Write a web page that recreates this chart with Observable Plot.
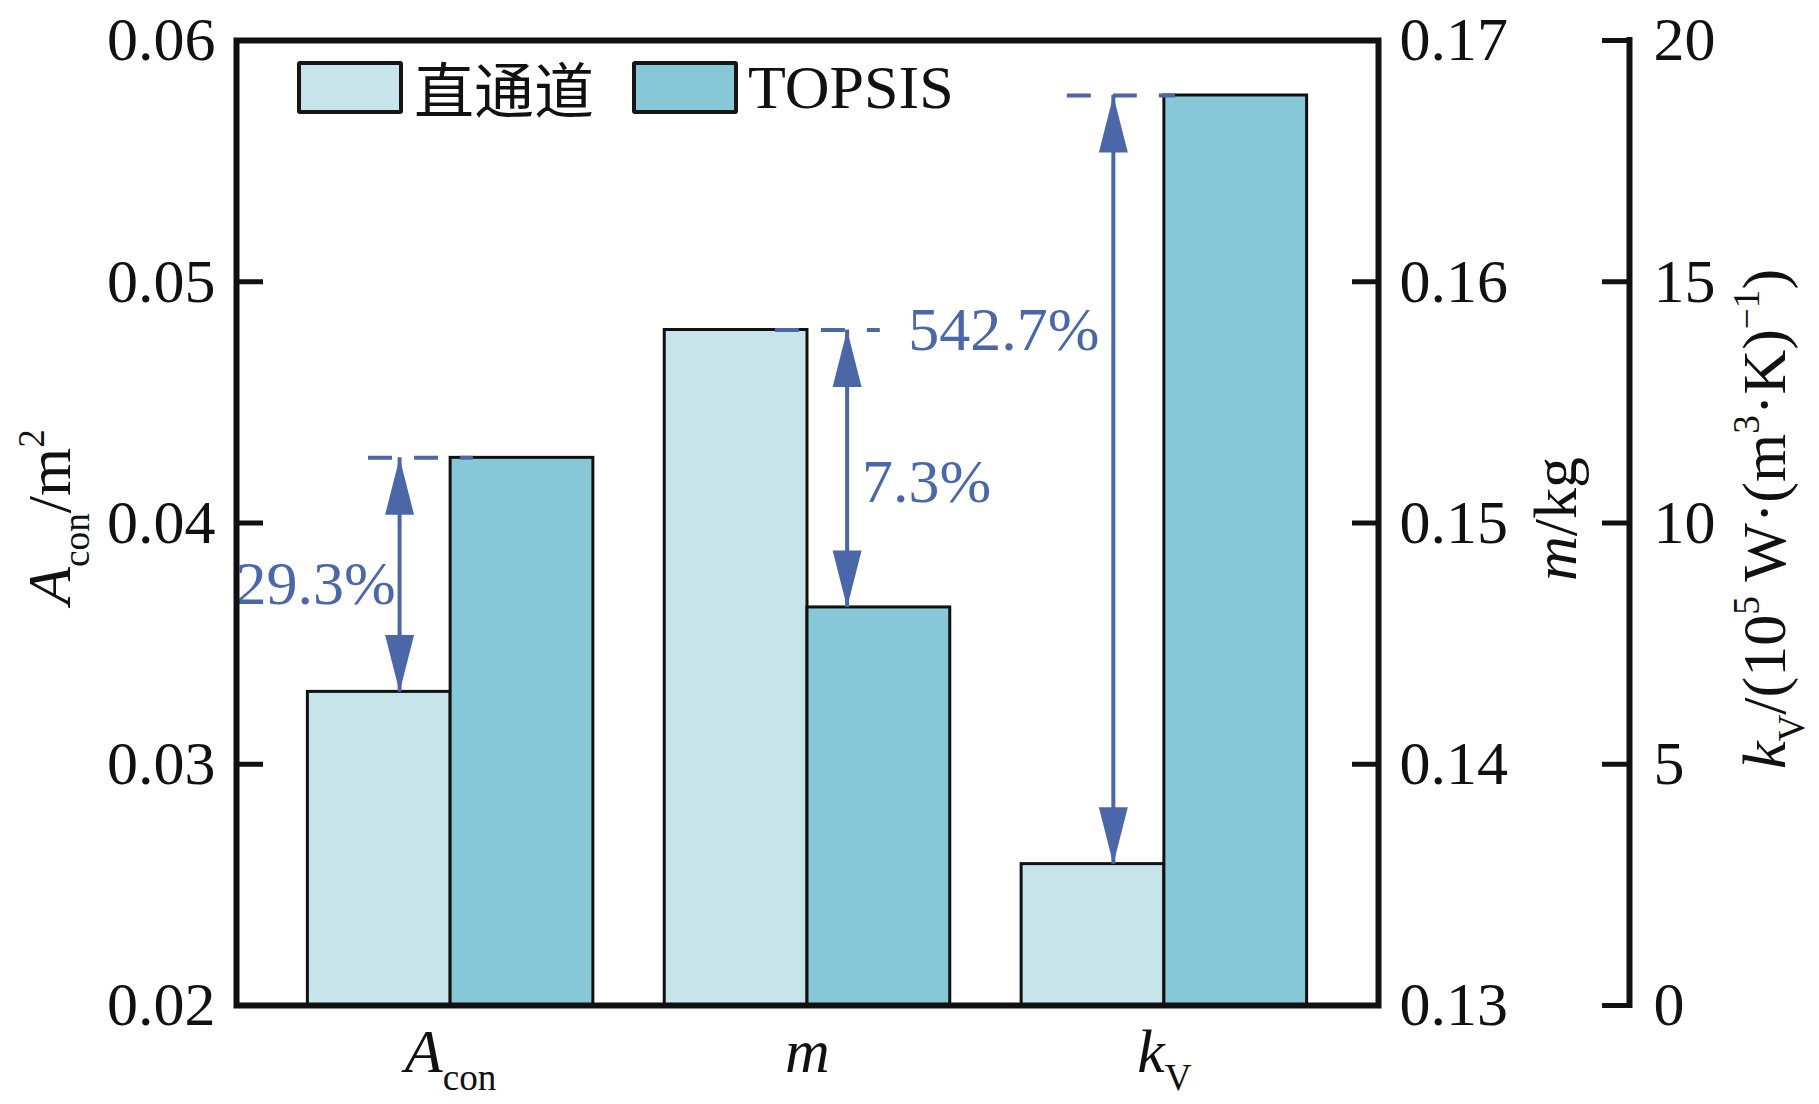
<!DOCTYPE html>
<html>
<head>
<meta charset="utf-8">
<script src="https://cdn.jsdelivr.net/npm/d3@7"></script>
<script src="https://cdn.jsdelivr.net/npm/@observablehq/plot@0.6"></script>
<style>
  body { margin: 0; background: #fff; }
  #wrap { position: relative; width: 1819px; height: 1104px; }
  .lg-box { position: absolute; box-sizing: border-box; border: 4px solid #161616; border-radius: 3px; }
  .lg-text { position: absolute; line-height: 1; color: #111; white-space: nowrap; }
</style>
</head>
<body>
<div id="wrap"></div>
<script>
// ---------------- data ----------------
const categories = ["A_con", "m", "k_V"];
const categoryLabels = ["*A*_{con}", "*m*", "*k*_{V}"];
const seriesNames = ["直通道", "TOPSIS"];
const straightValues = [0.033, 0.158, 2.93];   // 直通道
const topsisValues = [0.0427, 0.1465, 18.86];  // TOPSIS
const changeLabels = ["29.3%", "7.3%", "542.7%"];
const aconTicks = [0.02, 0.03, 0.04, 0.05, 0.06];
const massTicks = [0.13, 0.14, 0.15, 0.16, 0.17];
const kvTicks = [0, 5, 10, 15, 20];
const axisTitles = ["*A*_{con}/m^{2}", "*m*/kg", "*k*_{V}/(10^{5} W·(m^{3}·K)^{−1})"];

// ---------------- styling / layout ----------------
const lightColor = "#c6e4e9";
const tealColor = "#86c8d7";
const annColor = "#4b67a8";
const ink = "#111";
const serif = "'Liberation Serif', 'Times New Roman', serif";
const W = 1819, H = 1104;
const mL = 236, mR = 441, mT = 40, mB = 99;
const fs = 62;
const rightAxisShift = 251;
const groupPad = 0.2, barW = 0.4;
const xDomain = [0, categories.length + groupPad];
const yDomain = d3.extent(aconTicks);
// annotation layout (relative to each group)
const arrowOffset = [0.457, 0.711, 0.457];
const dashSpan = [[0.370, 0.664], [0.510, 0.804], [0.328, 0.631]];
const labelFrac = [0.46, 0.45, 0.695];
const labelAnchor = ["end", "start", "end"];
const labelDx = [-4, 15, -14];

// each category is read on its own axis; map them onto the left (A_con) axis scale
const toY = [
  d3.scaleLinear(d3.extent(aconTicks), yDomain),
  d3.scaleLinear(d3.extent(massTicks), yDomain),
  d3.scaleLinear(d3.extent(kvTicks), yDomain)
];

const rows = categories.flatMap((c, i) => [
  {i, s: 0, v: straightValues[i]},
  {i, s: 1, v: topsisValues[i]}
]).map(d => ({...d, y: toY[d.i](d.v)}));

const ann = categories.map((c, i) => {
  const a = toY[i](straightValues[i]), b = toY[i](topsisValues[i]);
  const lo = Math.min(a, b), hi = Math.max(a, b);
  return {i, lo, hi, x: i + arrowOffset[i], xd1: i + dashSpan[i][0], xd2: i + dashSpan[i][1],
          ly: lo + labelFrac[i] * (hi - lo), label: changeLabels[i]};
});
const heads = ann.flatMap(d => [{x: d.x, y: d.hi, rot: 0}, {x: d.x, y: d.lo, rot: 180}]);
const headShape = {
  draw(context, l, r) {
    context.moveTo(0, 0);
    context.lineTo(r, l);
    context.lineTo(-r, l);
    context.closePath();
  }
};

const groupCenter = i => i + groupPad + barW;

const svg = Plot.plot({
  width: W, height: H,
  marginLeft: mL, marginRight: mR, marginTop: mT, marginBottom: mB,
  style: {fontFamily: serif, fontSize: fs + "px", color: ink, background: "white", overflow: "visible"},
  x: {type: "linear", domain: xDomain, axis: null},
  y: {type: "linear", domain: yDomain, axis: null},
  marks: [
    Plot.rect(rows.filter(d => d.s === 0), {
      x1: d => d.i + groupPad, x2: d => d.i + groupPad + barW, y1: yDomain[0], y2: "y",
      fill: lightColor, stroke: ink, strokeWidth: 3
    }),
    Plot.rect(rows.filter(d => d.s === 1), {
      x1: d => d.i + groupPad + barW, x2: d => d.i + groupPad + 2 * barW, y1: yDomain[0], y2: "y",
      fill: tealColor, stroke: ink, strokeWidth: 3
    }),
    // annotations
    Plot.ruleY(ann, {y: "hi", x1: "xd1", x2: "xd2", stroke: annColor, strokeWidth: 4, strokeDasharray: "24 22"}),
    Plot.ruleX(ann, {x: "x", y1: "lo", y2: "hi", stroke: annColor, strokeWidth: 4}),
    Plot.vector(heads, {x: "x", y: "y", rotate: "rot", length: 57, r: 14.5, anchor: "start",
      shape: headShape, fill: annColor, stroke: "none"}),
    ...ann.map((d, k) => Plot.text([d], {x: "x", y: "ly", text: "label", textAnchor: labelAnchor[k],
      dx: labelDx[k], fill: annColor, fontSize: fs, lineAnchor: "middle"})),
    // frame and far-right axis line
    Plot.frame({stroke: ink, strokeWidth: 6}),
    Plot.ruleX([xDomain[1]], {dx: rightAxisShift, stroke: ink, strokeWidth: 6, strokeLinecap: "square"}),
    // left axis (A_con)
    Plot.axisY({anchor: "left", ticks: aconTicks, tickSize: -27, strokeWidth: 5, tickFormat: () => "", label: null}),
    Plot.axisY({anchor: "left", ticks: aconTicks, tickSize: 0, tickPadding: 21, fontSize: fs,
      tickFormat: d3.format(".2f"), label: null}),
    // middle axis (m)
    Plot.axisY({anchor: "right", ticks: massTicks.map(toY[1]), tickSize: -27, strokeWidth: 5,
      tickFormat: () => "", label: null}),
    Plot.axisY({anchor: "right", ticks: massTicks.map(toY[1]), tickSize: 0, tickPadding: 21, fontSize: fs,
      tickFormat: d => d3.format(".2f")(toY[1].invert(d)), label: null}),
    // far-right axis (k_V)
    Plot.axisY({anchor: "right", ticks: kvTicks.map(toY[2]), dx: rightAxisShift, tickSize: -28, strokeWidth: 5,
      tickFormat: () => "", label: null}),
    Plot.axisY({anchor: "right", ticks: kvTicks.map(toY[2]), dx: rightAxisShift, tickSize: 0, tickPadding: 24,
      fontSize: fs, tickFormat: d => d3.format("d")(Math.round(toY[2].invert(d))), label: null}),
    // x axis
    Plot.axisX({anchor: "bottom", ticks: categories.map((c, i) => groupCenter(i)), tickSize: 0, tickPadding: 22,
      fontSize: fs, tickFormat: d => categoryLabels[Math.round(d - groupPad - barW)], label: null}),
    // axis titles
    Plot.text([axisTitles[0]], {frameAnchor: "left", text: d => d, rotate: -90, dx: -186, dy: -6,
      textAnchor: "middle", fontSize: fs, lineAnchor: "middle"}),
    Plot.text([axisTitles[1]], {frameAnchor: "right", text: d => d, rotate: -90, dx: 178, dy: -4,
      textAnchor: "middle", fontSize: fs, lineAnchor: "middle"}),
    Plot.text([axisTitles[2]], {frameAnchor: "right", text: d => d, rotate: -90, dx: 387, dy: -4,
      textAnchor: "middle", fontSize: fs, lineAnchor: "middle"})
  ]
});

// ---- rich text (italic / sub / superscript) ----
function parseRich(s) {
  const segs = [];
  let italic = false, buf = "", i = 0;
  const flush = () => { if (buf) segs.push({t: buf, italic, shift: 0}); buf = ""; };
  while (i < s.length) {
    if ((s[i] === "_" || s[i] === "^") && s[i + 1] === "{") {
      flush();
      const j = s.indexOf("}", i);
      segs.push({t: s.slice(i + 2, j), italic: false, shift: s[i] === "_" ? 1 : -1});
      i = j + 1;
    } else if (s[i] === "*") {
      flush(); italic = !italic; i++;
    } else { buf += s[i]; i++; }
  }
  flush();
  return segs;
}
d3.select(svg).selectAll("text").each(function() {
  const s = this.textContent;
  if (!/[*]|_\{|\^\{/.test(s)) return;
  const segs = parseRich(s);
  const el = d3.select(this);
  el.text(null);
  let cur = 0;
  segs.forEach(seg => {
    const ts = el.append("tspan").text(seg.t);
    if (seg.italic) ts.attr("font-style", "italic");
    const target = seg.shift === 1 ? 0.3 * fs : seg.shift === -1 ? -0.42 * fs : 0;
    if (seg.shift !== 0) ts.attr("font-size", (0.6 * fs) + "px");
    if (target !== cur) { ts.attr("dy", target - cur); cur = target; }
  });
});

const wrap = document.getElementById("wrap");
wrap.appendChild(svg);

// ---- legend (inside the frame, top-left) ----
const legend = [
  {name: seriesNames[0], color: lightColor, box: [297, 61, 106, 53], tx: 414, ty: 57, font: "'Noto Sans CJK SC', sans-serif", size: 60},
  {name: seriesNames[1], color: tealColor, box: [632, 61, 106, 53], tx: 748, ty: 56, font: serif, size: 62}
];
legend.forEach(l => {
  const b = document.createElement("div");
  b.className = "lg-box";
  Object.assign(b.style, {left: l.box[0] + "px", top: l.box[1] + "px", width: l.box[2] + "px", height: l.box[3] + "px", background: l.color});
  wrap.appendChild(b);
  const t = document.createElement("div");
  t.className = "lg-text";
  t.textContent = l.name;
  Object.assign(t.style, {left: l.tx + "px", top: l.ty + "px", fontFamily: l.font, fontSize: l.size + "px"});
  wrap.appendChild(t);
});
</script>
</body>
</html>
